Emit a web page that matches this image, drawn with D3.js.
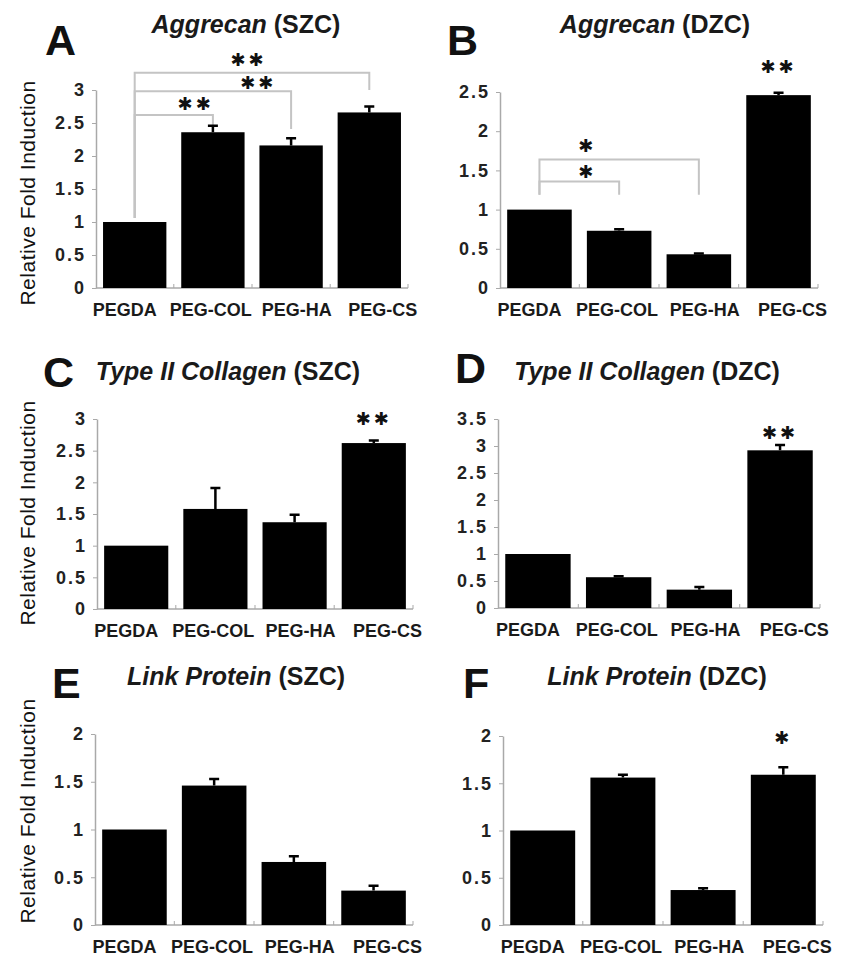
<!DOCTYPE html>
<html>
<head>
<meta charset="utf-8">
<script src="https://cdn.jsdelivr.net/npm/d3@7"></script>
<style>
  body { margin: 0; background: #fff; }
  svg { display: block; font-family: "Liberation Sans", Arial, sans-serif; }
</style>
</head>
<body>
<div id="chart"></div>
<script>
// Groups on the x axis (same in every panel)
const categories = ["PEGDA", "PEG-COL", "PEG-HA", "PEG-CS"];

// Mean relative fold induction and upper error
const aggrecanSZC = [1.0, 2.36, 2.16, 2.66];
const aggrecanSZCErr = [0, 0.10, 0.11, 0.09];
const aggrecanDZC = [1.0, 0.73, 0.43, 2.46];
const aggrecanDZCErr = [0, 0.02, 0.01, 0.03];
const collagenSZC = [1.0, 1.58, 1.37, 2.62];
const collagenSZCErr = [0, 0.33, 0.12, 0.04];
const collagenDZC = [1.0, 0.57, 0.34, 2.92];
const collagenDZCErr = [0, 0.02, 0.05, 0.10];
const linkSZC = [1.0, 1.46, 0.66, 0.36];
const linkSZCErr = [0, 0.07, 0.06, 0.05];
const linkDZC = [1.0, 1.56, 0.37, 1.59];
const linkDZCErr = [0, 0.03, 0.02, 0.08];

// Tick values for each y axis
const ticks3 = [0, 0.5, 1, 1.5, 2, 2.5, 3];
const ticks25 = [0, 0.5, 1, 1.5, 2, 2.5];
const ticks35 = [0, 0.5, 1, 1.5, 2, 2.5, 3, 3.5];
const ticks2 = [0, 0.5, 1, 1.5, 2];

// Significance brackets (levels in data units, "at" = where the stars sit between the two groups)
const bracketsA = [
  { from: "PEGDA", to: "PEG-CS", level: 3.26, leftEnd: 1.06, rightEnd: 3.0, label: "✱✱", at: 0.485, labelLevel: 3.46 },
  { from: "PEGDA", to: "PEG-HA", level: 2.98, leftEnd: 1.06, rightEnd: 2.41, label: "✱✱", at: 0.79, labelLevel: 3.12 },
  { from: "PEGDA", to: "PEG-COL", level: 2.62, leftEnd: 1.06, rightEnd: 2.44, label: "✱✱", at: 0.78, labelLevel: 2.79 }
];
const bracketsB = [
  { from: "PEGDA", to: "PEG-HA", level: 1.64, leftEnd: 1.19, rightEnd: 1.19, label: "✱", at: 0.3, labelLevel: 1.82 },
  { from: "PEGDA", to: "PEG-COL", level: 1.36, leftEnd: 1.19, rightEnd: 1.19, label: "✱", at: 0.6, labelLevel: 1.49 }
];
// Stars placed over a single bar
const starsB = [{ cat: "PEG-CS", level: 2.83, label: "✱✱" }];
const starsC = [{ cat: "PEG-CS", level: 3.0, label: "✱✱" }];
const starsD = [{ cat: "PEG-CS", level: 3.25, label: "✱✱" }];
const starsF = [{ cat: "PEG-CS", level: 1.98, label: "✱" }];

const panels = [
  { letter: "A", gene: "Aggrecan", zone: "(SZC)", values: aggrecanSZC, errs: aggrecanSZCErr, ticks: ticks3,
    brackets: bracketsA, stars: [],
    left: 96, right: 408, top: 90, bottom: 288, letterX: 45, letterY: 55, titleX: 246, titleY: 33, yLabelY: 193 },
  { letter: "B", gene: "Aggrecan", zone: "(DZC)", values: aggrecanDZC, errs: aggrecanDZCErr, ticks: ticks25,
    brackets: bracketsB, stars: starsB,
    left: 500, right: 818, top: 92, bottom: 288, letterX: 447, letterY: 55, titleX: 655, titleY: 33 },
  { letter: "C", gene: "Type II Collagen", zone: "(SZC)", values: collagenSZC, errs: collagenSZCErr, ticks: ticks3,
    brackets: [], stars: starsC,
    left: 97, right: 413, top: 419, bottom: 609, letterX: 43, letterY: 387, titleX: 228, titleY: 380, yLabelY: 513 },
  { letter: "D", gene: "Type II Collagen", zone: "(DZC)", values: collagenDZC, errs: collagenDZCErr, ticks: ticks35,
    brackets: [], stars: starsD,
    left: 498, right: 820, top: 419, bottom: 608, letterX: 455, letterY: 383, titleX: 647, titleY: 380 },
  { letter: "E", gene: "Link Protein", zone: "(SZC)", values: linkSZC, errs: linkSZCErr, ticks: ticks2,
    brackets: [], stars: [],
    left: 95, right: 413, top: 734, bottom: 925, letterX: 52, letterY: 698, titleX: 236, titleY: 685, yLabelY: 811 },
  { letter: "F", gene: "Link Protein", zone: "(DZC)", values: linkDZC, errs: linkDZCErr, ticks: ticks2,
    brackets: [], stars: starsF,
    left: 503, right: 823, top: 736, bottom: 925, letterX: 463, letterY: 698, titleX: 657, titleY: 685 }
];

const svg = d3.select("#chart").append("svg")
  .attr("width", 843)
  .attr("height", 959);

svg.append("rect").attr("width", 843).attr("height", 959).attr("fill", "#fff");

const axisGray = "#a9a9a9";
const bracketGray = "#c4c4c4";

// star glyphs: drawn centred on (cx, cy)
function addStars(g, cx, cy, label) {
  g.append("text")
    .attr("x", cx)
    .attr("y", cy)
    .attr("dy", "0.36em")
    .attr("text-anchor", "middle")
    .style("font-family", "'DejaVu Sans', sans-serif")
    .style("font-size", "18px")
    .style("letter-spacing", "3px")
    .style("fill", "#111")
    .text(label);
}

panels.forEach(p => {
  const g = svg.append("g");
  const maxTick = p.ticks[p.ticks.length - 1];

  const x = d3.scaleBand()
    .domain(categories)
    .range([p.left, p.right])
    .paddingInner(0.19)
    .paddingOuter(0.09);

  const y = d3.scaleLinear()
    .domain([0, maxTick])
    .range([p.bottom, p.top]);

  // labels under the axis are spread a bit wider than the bars
  const labelStart = x(categories[0]) + x.bandwidth() / 2 - 10;
  const xLabel = d3.scalePoint()
    .domain(categories)
    .range([labelStart, labelStart + 3 * x.step() * 1.1]);

  // panel letter
  g.append("text")
    .attr("x", p.letterX)
    .attr("y", p.letterY)
    .style("font-size", "43px")
    .style("font-weight", "bold")
    .style("fill", "#111")
    .text(p.letter);

  // title: gene name in italics, zone upright
  const title = g.append("text")
    .attr("x", p.titleX)
    .attr("y", p.titleY)
    .attr("text-anchor", "middle")
    .style("font-size", "25px")
    .style("font-weight", "bold")
    .style("fill", "#1a1a1a");
  title.append("tspan").style("font-style", "italic").text(p.gene + " ");
  title.append("tspan").text(p.zone);

  // y axis
  const yAxis = g.append("g")
    .attr("transform", `translate(${p.left},0)`)
    .call(d3.axisLeft(y).tickValues(p.ticks).tickSize(4).tickSizeOuter(0).tickPadding(6).tickFormat(d => d));
  yAxis.select(".domain").attr("stroke", axisGray).attr("stroke-width", 1.5);
  yAxis.selectAll(".tick line").attr("stroke", axisGray);
  yAxis.selectAll(".tick text")
    .style("font-size", "18px")
    .style("font-weight", "bold")
    .style("letter-spacing", "2px")
    .style("font-family", "'Liberation Sans', Arial, sans-serif")
    .attr("fill", "#222");

  // x axis line with small ticks between groups
  g.append("line")
    .attr("x1", p.left).attr("x2", p.right)
    .attr("y1", p.bottom).attr("y2", p.bottom)
    .attr("stroke", axisGray).attr("stroke-width", 1.5);
  g.selectAll(".xtick")
    .data(categories.slice(1).concat(["end"]))
    .enter()
    .append("line")
    .attr("x1", d => d === "end" ? p.right : x(d) - x.step() * x.paddingInner() / 2)
    .attr("x2", d => d === "end" ? p.right : x(d) - x.step() * x.paddingInner() / 2)
    .attr("y1", p.bottom).attr("y2", p.bottom - 4)
    .attr("stroke", axisGray);

  // category labels
  g.selectAll(".xlabel")
    .data(categories)
    .enter()
    .append("text")
    .attr("x", d => xLabel(d))
    .attr("y", p.bottom + 28)
    .attr("text-anchor", "middle")
    .style("font-size", "18px")
    .style("font-weight", "bold")
    .style("fill", "#1a1a1a")
    .text(d => d);

  // y axis title on the left column only
  if (p.yLabelY) {
    g.append("text")
      .attr("transform", `translate(35,${p.yLabelY}) rotate(-90)`)
      .attr("text-anchor", "middle")
      .style("font-size", "21px")
      .style("letter-spacing", "0.5px")
      .style("fill", "#111")
      .text("Relative Fold Induction");
  }

  // brackets
  p.brackets.forEach(b => {
    const x1 = x(b.from) + x.bandwidth() / 2;
    const x2 = x(b.to) + x.bandwidth() / 2;
    const yl = y(b.level);
    g.append("path")
      .attr("d", `M${x1},${y(b.leftEnd)}V${yl}H${x2}V${y(b.rightEnd)}`)
      .attr("fill", "none")
      .attr("stroke", bracketGray)
      .attr("stroke-width", 2);
    addStars(g, x1 + (x2 - x1) * b.at, y(b.labelLevel), b.label);
  });

  // bars
  const rows = categories.map((c, i) => ({ cat: c, value: p.values[i], err: p.errs[i] }));
  g.selectAll(".bar")
    .data(rows)
    .enter()
    .append("rect")
    .attr("x", d => x(d.cat))
    .attr("y", d => y(d.value))
    .attr("width", x.bandwidth())
    .attr("height", d => y(0) - y(d.value))
    .attr("fill", "#000");

  // upper error bars
  const errRows = rows.filter(d => d.err > 0);
  g.selectAll(".err")
    .data(errRows)
    .enter()
    .append("path")
    .attr("d", d => {
      const cx = x(d.cat) + x.bandwidth() / 2;
      return `M${cx},${y(d.value)}V${y(d.value + d.err)}M${cx - 5},${y(d.value + d.err)}H${cx + 5}`;
    })
    .attr("fill", "none")
    .attr("stroke", "#000")
    .attr("stroke-width", 2.5);

  // stars above single bars
  p.stars.forEach(s => {
    addStars(g, x(s.cat) + x.bandwidth() / 2, y(s.level), s.label);
  });
});
</script>
</body>
</html>
